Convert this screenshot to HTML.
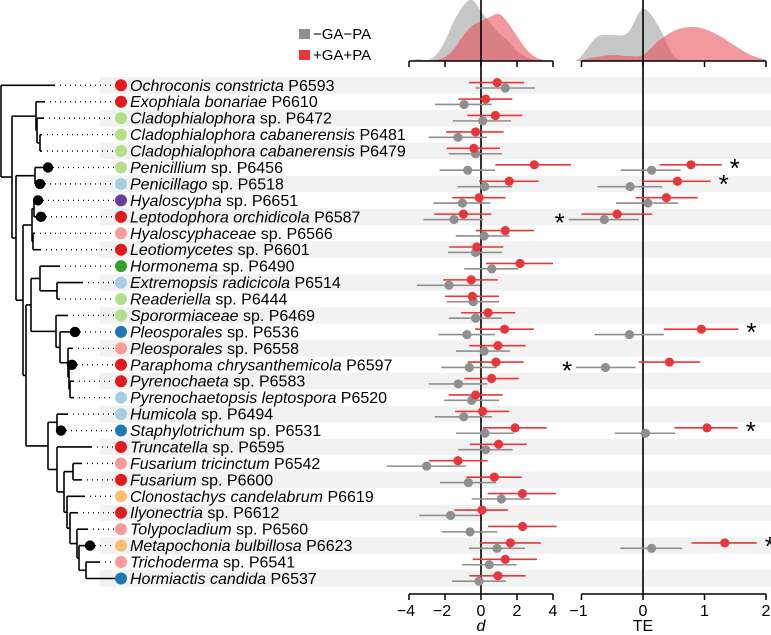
<!DOCTYPE html>
<html><head><meta charset="utf-8"><style>
html,body{margin:0;padding:0;background:#fff}
svg{display:block;font-family:"Liberation Sans",sans-serif}
</style></head><body>
<svg id="chart" width="771" height="635" viewBox="0 0 771 635">
<g id="stripes"></g>
<g id="tree"></g>
<g id="labels"></g>
<g id="dens"></g>
<g id="axes"></g>
<g id="marks"></g>
<g>
<rect x="299" y="29" width="11" height="10" fill="#8f8f8f"/>
<text x="313" y="39" font-size="15">−GA−PA</text>
<rect x="299" y="50" width="11" height="10" fill="#e8363a"/>
<text x="313" y="60" font-size="15">+GA+PA</text>
</g>
</svg>
<script>
const genus=["Ochroconis constricta","Exophiala bonariae","Cladophialophora","Cladophialophora cabanerensis","Cladophialophora cabanerensis","Penicillium","Penicillago","Hyaloscypha","Leptodophora orchidicola","Hyaloscyphaceae","Leotiomycetes","Hormonema","Extremopsis radicicola","Readeriella","Sporormiaceae","Pleosporales","Pleosporales","Paraphoma chrysanthemicola","Pyrenochaeta","Pyrenochaetopsis leptospora","Humicola","Staphylotrichum","Truncatella","Fusarium tricinctum","Fusarium","Clonostachys candelabrum","Ilyonectria","Tolypocladium","Metapochonia bulbillosa","Trichoderma","Hormiactis candida"];
const suffix=[" P6593"," P6610"," sp. P6472"," P6481"," P6479"," sp. P6456"," sp. P6518"," sp. P6651"," P6587"," sp. P6566"," sp. P6601"," sp. P6490"," P6514"," sp. P6444"," sp. P6469"," sp. P6536"," sp. P6558"," P6597"," sp. P6583"," P6520"," sp. P6494"," sp. P6531"," sp. P6595"," P6542"," sp. P6600"," P6619"," sp. P6612"," sp. P6560"," P6623"," sp. P6541"," P6537"];
const clade=["r","r","lg","lg","lg","lg","lb","pu","r","pk","r","g","lb","lg","lg","b","pk","r","r","lb","lb","b","r","pk","r","o","r","pk","o","pk","b"];
// d: +GA+PA (red)
const dRed=[0.9,0.26,0.8,-0.3,-0.4,2.96,1.57,-0.1,-0.98,1.35,-0.24,2.17,-0.54,-0.48,0.39,1.31,0.94,0.83,0.59,-0.3,0.09,1.89,0.98,-1.28,0.74,2.3,0.06,2.31,1.63,1.35,0.94];
const dRedLo=[-0.67,-1.26,-0.76,-1.94,-1.9,0.8,-0.1,-1.6,-2.6,-0.28,-1.76,0.28,-2.1,-2.0,-1.1,-0.33,-0.65,-0.74,-0.93,-1.8,-1.43,0.09,-0.61,-2.9,-0.81,0.37,-1.48,0.39,-0.07,-0.46,-0.65];
const dRedHi=[2.4,1.74,2.3,1.26,1.05,5.0,3.2,1.37,0.57,2.96,1.24,4.0,0.94,1.0,1.9,2.93,2.48,2.37,2.09,1.2,1.56,3.65,2.54,0.37,2.26,4.17,1.5,4.2,3.33,3.11,2.48];
// d: -GA-PA (gray)
const dGray=[1.35,-0.94,0.1,-1.28,-0.3,-0.74,0.2,-1.04,-1.5,0.17,-0.3,0.6,-1.78,-0.43,-0.3,-0.78,0.17,-0.65,-1.26,-0.52,-0.96,0.22,0.26,-3.02,-0.7,1.13,-1.69,-0.61,0.89,0.46,-0.11];
const dGrayLo=[-0.3,-2.56,-1.56,-2.9,-1.8,-2.3,-1.3,-2.65,-3.2,-1.4,-1.83,-0.93,-3.56,-1.9,-1.8,-2.37,-1.39,-2.2,-2.9,-2.06,-2.57,-1.39,-1.26,-5.24,-2.28,-0.52,-3.43,-2.19,-0.67,-1.06,-1.61];
const dGrayHi=[3.0,0.6,1.67,0.33,1.17,0.78,1.74,0.52,0.13,1.6,1.17,2.07,-0.06,1.0,1.15,0.78,1.61,0.87,0.35,1.0,0.61,1.83,1.76,-0.85,0.83,2.72,-0.06,0.91,2.44,1.98,1.39];
// TE rows (0-based)
const teRows=[5,6,7,8,15,17,21,28];
const teRed=[0.78,0.56,0.38,-0.42,0.95,0.43,1.04,1.33];
const teRedLo=[0.27,0,-0.12,-1.0,0.34,-0.07,0.51,0.79];
const teRedHi=[1.28,1.1,0.89,0.15,1.55,0.93,1.54,1.85];
const teGray=[0.14,-0.21,0.08,-0.63,-0.22,-0.61,0.04,0.14];
const teGrayLo=[-0.36,-0.74,-0.44,-1.21,-0.79,-1.09,-0.46,-0.37];
const teGrayHi=[0.61,0.31,0.57,-0.07,0.34,-0.12,0.52,0.64];
const teStar=["right","right","none","left","right","left","right","right"];
// densities
const dGrid=[-4,-3.5,-3,-2.5,-2,-1.5,-1,-0.5,0,0.5,1,1.5,2,2.5,3,3.5,4];
const dDensGray=[0,2,1,6,20,40,55,61,50,38,28,20,10,4,1,0,0];
const dDensRed=[0,0,0,1,4,12,25,35,40,44,47,38,25,12,4,1,0];
const teGrid=[-1.1,-1,-0.75,-0.5,-0.25,0,0.25,0.5,0.75,1,1.25,1.5,1.75,2];
const teDensGray=[0,5,24,26,28,52,35,5,0,0,0,0,0,0];
const teDensRed=[0,1,4,6,5,6,20,30,34,32,25,15,6,1];
const dTicks=[-4,-2,0,2,4];
const teTicks=[-1,0,1,2];

const NS="http://www.w3.org/2000/svg";
function mk(p,tag,at){const e=document.createElementNS(NS,tag);for(const k in at)e.setAttribute(k,at[k]);p.appendChild(e);return e;}
const rowY=k=>85.3+k*16.44;
const xd=v=>481+18*v;
const xt=v=>643+61.5*v;
const base=61;
const colors={r:"#e31a1c",lg:"#b2df8a",lb:"#a6cee3",pu:"#6a3d9a",pk:"#fb9a99",g:"#33a02c",b:"#1f78b4",o:"#fdbf6f"};
const gS=document.getElementById('stripes'),gT=document.getElementById('tree'),gL=document.getElementById('labels'),gD=document.getElementById('dens'),gA=document.getElementById('axes'),gM=document.getElementById('marks');

for(let k=0;k<genus.length;k+=2){
 const r=mk(gS,'rect',{x:100,y:rowY(k)-8.2,width:671,height:16.44,fill:"#f2f2f2"});
 
 
}

// tree: tips with x; internal nodes
const tipX=[55,45,44,42,42,48,40,38,41,35,41,60,83,60,68,75,73,72,74,74,68,61,92,82,82,85,78,88,90,100,118];
function T(i){return {tip:i};}
function N(x,ch){return {x:x,ch:ch};}
const root=N(1,[T(0),N(12,[N(36,[T(1),N(37,[T(2),N(40,[T(3),T(4)])])]),
 N(16,[N(35,[T(5),T(6)]),N(23,[N(32,[N(34,[T(7),T(8)]),N(33,[T(9),T(10)])]),
  N(26,[N(31,[N(40,[T(11),N(57,[T(12),T(13)])]),N(56,[T(14),N(60,[T(15),N(68,[T(16),N(69,[T(17),N(70,[T(18),T(19)])])])])])]),
   N(48,[N(57,[T(20),T(21)]),N(57,[T(22),N(64,[N(73,[T(23),T(24)]),N(67,[T(25),N(70,[T(26),N(77,[T(27),N(79,[T(28),N(86,[T(29),T(30)])])])])])])])])])])])])]);
function draw(n,px){
 if(n.tip!==undefined){const y=rowY(n.tip);const x=tipX[n.tip];
  const l=mk(gT,'line',{x1:px,y1:y,x2:x,y2:y,stroke:"#000","stroke-width":1.6});
  
  
  const d=mk(gT,'line',{x1:x+5,y1:y,x2:114,y2:y,stroke:"#000","stroke-width":1.3,"stroke-dasharray":"1 4"});
  
  
  return y;}
 const ys=n.ch.map(c=>draw(c,n.x));
 const y=(ys[0]+ys[ys.length-1])/2;
 const v=mk(gT,'line',{x1:n.x,y1:ys[0],x2:n.x,y2:ys[ys.length-1],stroke:"#000","stroke-width":1.6});
 
 
 if(px!==null){const h=mk(gT,'line',{x1:px,y1:y,x2:n.x,y2:y,stroke:"#000","stroke-width":1.6});
  
  }
 return y;
}
draw(root,null);
const support=[[5,48],[6,40],[7,38],[8,41],[15,75],[17,72],[21,61],[28,90]];
support.forEach(s=>{const c=mk(gT,'circle',{cx:s[1],cy:rowY(s[0]),r:5.2,fill:"#000"});
 
 });

genus.forEach((g,k)=>{const y=rowY(k);
 const c=mk(gL,'circle',{cx:121,cy:y,r:6,fill:colors[clade[k]]});
 
 
 const t=mk(gL,'text',{x:130,y:y+5.5,"font-size":16});
 
 
 const it=mk(t,'tspan',{"font-style":"italic"});it.textContent=g;
 const s=mk(t,'tspan',{});s.textContent=suffix[k];
});

function smooth(pts){let d="M"+pts[0][0]+","+pts[0][1];
 for(let i=0;i<pts.length-1;i++){const p0=pts[i-1]||pts[i],p1=pts[i],p2=pts[i+1],p3=pts[i+2]||p2;
  d+=" C"+(p1[0]+(p2[0]-p0[0])/6)+","+(p1[1]+(p2[1]-p0[1])/6)+" "+(p2[0]-(p3[0]-p1[0])/6)+","+(p2[1]-(p3[1]-p1[1])/6)+" "+p2[0]+","+p2[1];}
 return d;}
function dens(grid,vals,sx,fill,op,name){
 const pts=grid.map((g,i)=>[sx(g),base-vals[i]]);
 const d=smooth(pts)+" L"+pts[pts.length-1][0]+","+base+" L"+pts[0][0]+","+base+"Z";
 const p=mk(gD,'path',{d:d,fill:fill,"fill-opacity":op});
 
 }
dens(dGrid,dDensGray,xd,"#a9a9a9",0.65,'density-d-control');
dens(dGrid,dDensRed,xd,"#e8454d",0.55,'density-d-treatment');
dens(teGrid,teDensGray,xt,"#a9a9a9",0.65,'density-te-control');
dens(teGrid,teDensRed,xt,"#e8454d",0.55,'density-te-treatment');

function axis(ticks,sx,name,title,italic){
 [[61,-1],[594,1]].forEach(([y,dir])=>{
  const l=mk(gA,'line',{x1:sx(ticks[0]),y1:y,x2:sx(ticks[ticks.length-1]),y2:y,stroke:"#000","stroke-width":1.5});
  
  
  ticks.forEach(t=>{const tk=mk(gA,'line',{x1:sx(t),y1:y,x2:sx(t),y2:y+6,stroke:"#000","stroke-width":1.5});
   
   
   if(dir>0){const tx=mk(gA,'text',{x:sx(t)-(t<0?3:0),y:616,"font-size":16,"text-anchor":"middle"});
    
    
    tx.textContent=t<0?"−"+(-t):String(t);}});
 });
 const z=mk(gA,'line',{x1:sx(0),y1:0,x2:sx(0),y2:594,stroke:"#000","stroke-width":1.6});
 
 
 const tt=mk(gA,'text',{x:sx(0),y:631,"font-size":16,"text-anchor":"middle","font-style":italic?"italic":"normal"});
 
 
 tt.textContent=title;
}
axis(dTicks,xd,'d','d',true);
axis(teTicks,xt,'te','TE',false);

function est(y,m,lo,hi,sx,col,name){
 const l=mk(gM,'line',{x1:sx(lo),y1:y,x2:sx(hi),y2:y,stroke:col,"stroke-width":1.6});
 
 
 const c=mk(gM,'circle',{cx:sx(m),cy:y,r:4.6,fill:col});
 
 }
const GR="#8f8f8f",RD="#e8363a";
genus.forEach((g,k)=>{const y=rowY(k);
 est(y+2.7,dGray[k],dGrayLo[k],dGrayHi[k],xd,GR,'d-control');
 est(y-2.7,dRed[k],dRedLo[k],dRedHi[k],xd,RD,'d-treatment');});
teRows.forEach((k,i)=>{const y=rowY(k);
 est(y+2.7,teGray[i],teGrayLo[i],teGrayHi[i],xt,GR,'te-control');
 est(y-2.7,teRed[i],teRedLo[i],teRedHi[i],xt,RD,'te-treatment');
 if(teStar[i]!=="none"){
  const right=teStar[i]==="right";
  const x=right?xt(teRedHi[i])+8:xt(teGrayLo[i])-14;
  const yy=right?y-2.7:y+2.7;
  const s=mk(gM,'text',{x:x,y:yy+12,"font-size":26});
  
  
  s.textContent="*";}
});
</script>
</body></html>
